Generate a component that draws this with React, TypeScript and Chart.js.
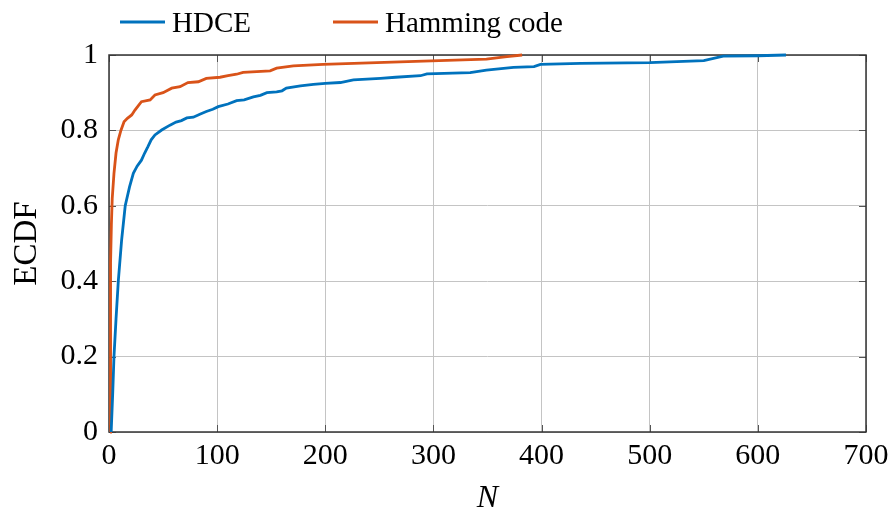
import React, { useEffect, useRef } from "react";
import { Chart, registerables } from "chart.js";

Chart.register(...registerables);

const seriesNames = ["HDCE", "Hamming code"];
const seriesColors = ["#0072BD", "#D95319"];

const hdceN = [2, 3.4, 4.6, 6.5, 8.6, 11.7, 15, 19, 22.5, 26, 30, 33, 36, 39, 42.5, 48.7, 56.4, 62, 67, 72, 78, 84, 90, 96, 101, 110, 118, 125, 133.5, 140, 146, 155, 160, 164, 177, 189, 200, 214, 226, 251, 265, 288, 294, 334, 349, 374, 393, 399, 436, 500, 550, 568, 600, 626];
const hdceF = [0, 0.1, 0.2, 0.3, 0.4, 0.51, 0.6, 0.65, 0.686, 0.705, 0.721, 0.74, 0.757, 0.775, 0.788, 0.801, 0.814, 0.822, 0.826, 0.833, 0.835, 0.843, 0.85, 0.856, 0.863, 0.87, 0.879, 0.881, 0.889, 0.893, 0.9, 0.902, 0.905, 0.912, 0.918, 0.922, 0.925, 0.927, 0.934, 0.938, 0.941, 0.945, 0.95, 0.953, 0.96, 0.967, 0.969, 0.975, 0.978, 0.98, 0.985, 0.997, 0.998, 1.0];

const hammingN = [1, 1.3, 1.6, 2.2, 3, 4.6, 6.5, 8.6, 11, 13.9, 17, 21, 24, 27, 30, 38, 42.5, 50, 58, 65.7, 73, 82.6, 90, 102.7, 110, 118, 124, 149, 155, 170.5, 198, 247.6, 290.8, 349, 368, 382];
const hammingF = [0, 0.25, 0.45, 0.55, 0.62, 0.686, 0.74, 0.775, 0.8, 0.823, 0.832, 0.841, 0.854, 0.865, 0.876, 0.881, 0.894, 0.9, 0.912, 0.916, 0.927, 0.929, 0.938, 0.941, 0.945, 0.949, 0.954, 0.958, 0.965, 0.971, 0.975, 0.98, 0.984, 0.989, 0.9955, 1.0];

const xTicks = [0, 100, 200, 300, 400, 500, 600, 700];
const xTickLabels = ["0", "100", "200", "300", "400", "500", "600", "700"];
const yTicks = [0, 0.2, 0.4, 0.6, 0.8, 1];
const yTickLabels = ["0", "0.2", "0.4", "0.6", "0.8", "1"];

const SERIF = '"Liberation Serif", "Times New Roman", serif';

const framePlugin = {
  id: "frame",
  beforeDatasetsDraw(chart: any) {
    const { ctx, chartArea } = chart;
    const { left, right, top, bottom } = chartArea;
    const xs = chart.scales.x;
    const ys = chart.scales.y;
    ctx.save();
    ctx.strokeStyle = "#555";
    ctx.lineWidth = 1;
    const tl = 7;
    xTicks.forEach((v) => {
      const px = Math.round(xs.getPixelForValue(v)) + 0.5;
      ctx.beginPath();
      ctx.moveTo(px, bottom);
      ctx.lineTo(px, bottom - tl);
      ctx.moveTo(px, top);
      ctx.lineTo(px, top + tl);
      ctx.stroke();
    });
    yTicks.forEach((v) => {
      const py = Math.round(ys.getPixelForValue(v)) + 0.5;
      ctx.beginPath();
      ctx.moveTo(left, py);
      ctx.lineTo(left + tl, py);
      ctx.moveTo(right, py);
      ctx.lineTo(right - tl, py);
      ctx.stroke();
    });
    ctx.strokeStyle = "#333";
    ctx.lineWidth = 1.5;
    ctx.strokeRect(left, top, right - left, bottom - top);
    ctx.restore();
  },
};

const legendPlugin = {
  id: "customLegend",
  afterDraw(chart: any) {
    const { ctx } = chart;
    const items = [
      { x: 120, label: seriesNames[0], color: seriesColors[0] },
      { x: 333, label: seriesNames[1], color: seriesColors[1] },
    ];
    ctx.save();
    ctx.font = `29px ${SERIF}`;
    ctx.textBaseline = "alphabetic";
    ctx.textAlign = "left";
    items.forEach((it) => {
      ctx.strokeStyle = it.color;
      ctx.lineWidth = 2.8;
      ctx.beginPath();
      ctx.moveTo(it.x, 22);
      ctx.lineTo(it.x + 45, 22);
      ctx.stroke();
      ctx.fillStyle = "#000";
      ctx.fillText(it.label, it.x + 52, 32);
    });
    ctx.restore();
  },
};

export default function App() {
  const ref = useRef<HTMLCanvasElement | null>(null);
  useEffect(() => {
    if (!ref.current) return;
    const mk = (xs: number[], ys: number[]) => xs.map((x, i) => ({ x, y: ys[i] }));
    const chart = new Chart(ref.current, {
      type: "line",
      data: {
        datasets: [
          {
            label: seriesNames[0],
            data: mk(hdceN, hdceF),
            borderColor: seriesColors[0],
            backgroundColor: seriesColors[0],
            borderWidth: 2.8,
            pointRadius: 0,
            tension: 0,
            clip: 4,
          },
          {
            label: seriesNames[1],
            data: mk(hammingN, hammingF),
            borderColor: seriesColors[1],
            backgroundColor: seriesColors[1],
            borderWidth: 2.8,
            pointRadius: 0,
            tension: 0,
            clip: 4,
          },
        ],
      },
      options: {
        animation: false,
        responsive: false,
        devicePixelRatio: 1,
        layout: { padding: { top: 55, right: 25, left: 0, bottom: 0 } },
        plugins: { legend: { display: false }, tooltip: { enabled: false } },
        scales: {
          x: {
            type: "linear",
            min: 0,
            max: 700,
            afterBuildTicks: (s: any) => {
              s.ticks = xTicks.map((v) => ({ value: v }));
            },
            afterFit: (s: any) => {
              s.height = 80;
              s.paddingLeft = 0;
              s.paddingRight = 0;
            },
            ticks: {
              color: "#000",
              font: { family: SERIF, size: 30 },
              padding: 6,
              maxRotation: 0,
              autoSkip: false,
              callback: (_v: any, i: number) => xTickLabels[i],
            },
            grid: { color: "#c4c4c4", lineWidth: 1, drawTicks: false },
            border: { display: false },
            title: {
              display: true,
              text: "N",
              color: "#000",
              font: { family: SERIF, size: 32, style: "italic", lineHeight: 1 },
              padding: { top: 0, bottom: -3 },
            },
          },
          y: {
            type: "linear",
            min: 0,
            max: 1,
            afterBuildTicks: (s: any) => {
              s.ticks = yTicks.map((v) => ({ value: v }));
            },
            afterFit: (s: any) => {
              s.width = 109;
              s.paddingTop = 0;
              s.paddingBottom = 0;
            },
            ticks: {
              color: "#000",
              font: { family: SERIF, size: 30 },
              padding: 11,
              autoSkip: false,
              callback: (_v: any, i: number) => yTickLabels[i],
            },
            grid: { color: "#c4c4c4", lineWidth: 1, drawTicks: false },
            border: { display: false },
            title: {
              display: true,
              text: "ECDF",
              color: "#000",
              font: { family: SERIF, size: 33, lineHeight: 1 },
              padding: { top: 11, bottom: 0 },
            },
          },
        },
      },
      plugins: [framePlugin, legendPlugin],
    });
    return () => chart.destroy();
  }, []);
  return (
    <div style={{ position: "absolute", left: 0, top: 0, width: 891, height: 512, background: "#fff" }}>
      <canvas ref={ref} width={891} height={512} style={{ display: "block" }} />
    </div>
  );
}
